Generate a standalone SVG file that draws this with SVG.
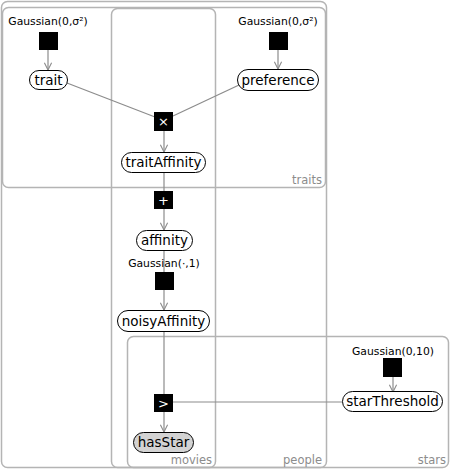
<svg xmlns="http://www.w3.org/2000/svg" width="451" height="471" viewBox="0 0 451 471">
<defs>
<marker id="arr" viewBox="0 0 10 10" refX="9" refY="5" markerWidth="9" markerHeight="9" markerUnits="userSpaceOnUse" orient="auto">
<path d="M1,1 L9,5 L1,9" fill="none" stroke="#8c8c8c" stroke-width="1.2"/>
</marker>
</defs>
<style>
.plate{fill:none;stroke:#b4b4b4;stroke-width:1.5}
.plabel{font-family:"DejaVu Sans",sans-serif;font-size:11.5px;fill:#8c8c8c;text-anchor:end}
.var{fill:#fff;stroke:#000;stroke-width:1}
.obs{fill:#d3d3d3;stroke:#000;stroke-width:1}
.vlabel{font-family:"DejaVu Sans",sans-serif;font-size:13.5px;fill:#000;text-anchor:middle}
.fac{fill:#000}
.flabel{font-family:"DejaVu Sans",sans-serif;font-size:10.8px;fill:#000;text-anchor:middle}
.fsym{font-family:"DejaVu Sans",sans-serif;font-size:13px;fill:#fff;text-anchor:middle}
.edge{fill:none;stroke:#8c8c8c;stroke-width:1.2}
</style>
<rect width="451" height="471" fill="#fff"/>
<g id="plates">
<rect id="plate-people" class="plate" x="1.5" y="1.5" width="325" height="466" rx="6"/>
<rect id="plate-traits" class="plate" x="2.5" y="7.5" width="323" height="180" rx="6"/>
<rect id="plate-movies" class="plate" x="111.5" y="8.5" width="104" height="459" rx="6"/>
<rect id="plate-stars" class="plate" x="127.5" y="336.5" width="321" height="131" rx="6"/>
<text class="plabel" x="322" y="184">traits</text>
<text class="plabel" x="212" y="464">movies</text>
<text class="plabel" x="322" y="464">people</text>
<text class="plabel" x="446" y="464">stars</text>
</g>
<g id="connectors">
<line class="edge" x1="48" y1="50" x2="48" y2="70" marker-end="url(#arr)"/>
<line class="edge" x1="278" y1="50" x2="278" y2="69" marker-end="url(#arr)"/>
<line class="edge" x1="67" y1="83" x2="155" y2="117"/>
<line class="edge" x1="239" y1="85" x2="173" y2="116"/>
<line class="edge" x1="164" y1="131" x2="164" y2="152" marker-end="url(#arr)"/>
<line class="edge" x1="164" y1="172" x2="164" y2="191"/>
<line class="edge" x1="164" y1="209" x2="164" y2="230" marker-end="url(#arr)"/>
<line class="edge" x1="164" y1="251" x2="164" y2="272"/>
<line class="edge" x1="164" y1="290" x2="164" y2="310" marker-end="url(#arr)"/>
<line class="edge" x1="164" y1="332" x2="164" y2="394"/>
<line class="edge" x1="164" y1="412" x2="164" y2="432" marker-end="url(#arr)"/>
<line class="edge" x1="393" y1="377" x2="393" y2="392" marker-end="url(#arr)"/>
<line class="edge" x1="342" y1="402" x2="173" y2="402"/>
</g>
<g id="f-trait-prior">
<text class="flabel" x="48" y="25">Gaussian(0,σ²)</text>
<rect class="fac" x="39" y="32" width="19" height="18"/>
</g>
<g id="f-pref-prior">
<text class="flabel" x="278" y="25">Gaussian(0,σ²)</text>
<rect class="fac" x="269" y="32" width="19" height="18"/>
</g>
<g id="trait">
<rect class="var" x="29.5" y="70.5" width="38" height="19" rx="9.5"/>
<text class="vlabel" x="48.5" y="85">trait</text>
</g>
<g id="preference">
<rect class="var" x="237.5" y="69.5" width="81" height="21" rx="10.5"/>
<text class="vlabel" x="278" y="85">preference</text>
</g>
<g id="f-times">
<rect class="fac" x="154" y="112" width="19" height="19"/>
<text class="fsym" x="163.5" y="126">×</text>
</g>
<g id="traitAffinity">
<rect class="var" x="121.5" y="152.5" width="84" height="20" rx="10"/>
<text class="vlabel" x="163.5" y="167">traitAffinity</text>
</g>
<g id="f-plus">
<rect class="fac" x="154" y="191" width="19" height="18"/>
<text class="fsym" x="163.5" y="205">+</text>
</g>
<g id="affinity">
<rect class="var" x="136.5" y="230.5" width="56" height="20" rx="10"/>
<text class="vlabel" x="164.5" y="245">affinity</text>
</g>
<g id="f-noise">
<text class="flabel" x="164" y="267">Gaussian(·,1)</text>
<rect class="fac" x="155" y="272" width="19" height="18"/>
</g>
<g id="noisyAffinity">
<rect class="var" x="117.5" y="310.5" width="92" height="21" rx="10.5"/>
<text class="vlabel" x="163.5" y="325.5">noisyAffinity</text>
</g>
<g id="f-greater">
<rect class="fac" x="154" y="394" width="19" height="18"/>
<text class="fsym" x="163.5" y="408">&gt;</text>
</g>
<g id="hasStar">
<rect class="obs" x="133.5" y="432.5" width="60" height="20" rx="10"/>
<text class="vlabel" x="163.5" y="447">hasStar</text>
</g>
<g id="f-threshold-prior">
<text class="flabel" x="393" y="355">Gaussian(0,10)</text>
<rect class="fac" x="383" y="358" width="19" height="19"/>
</g>
<g id="starThreshold">
<rect class="var" x="342.5" y="391.5" width="100" height="20" rx="10"/>
<text class="vlabel" x="392.5" y="406">starThreshold</text>
</g>
</svg>
